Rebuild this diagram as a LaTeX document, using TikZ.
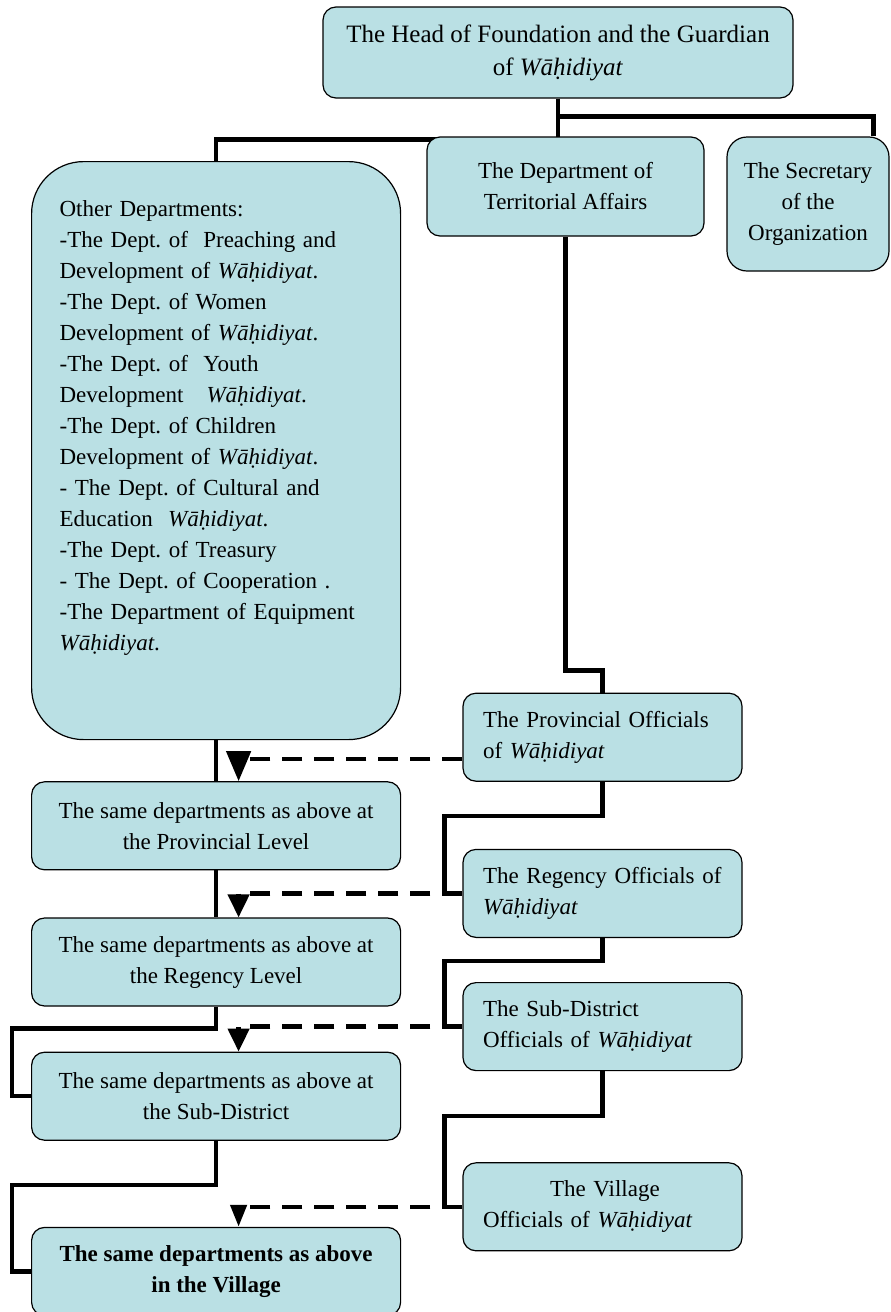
\documentclass[tikz,border=0pt]{standalone}
\usepackage{fontspec}
\setmainfont{Liberation Serif}
\usepackage{tikz}
\usetikzlibrary{positioning, arrows.meta, backgrounds}
\definecolor{boxfill}{RGB}{186,224,228}
\newcommand{\wahid}{\textit{Wāḥidiyat}}
\frenchspacing

\begin{document}
\begin{tikzpicture}[
	x=0.5pt, y=-0.5pt,
	box/.style={
		draw,
		fill=boxfill,
		rectangle,
		rounded corners=6.5pt,
		line width=0.6pt,
		inner sep=0pt,
		align=center,
		font=\fontsize{11.5}{15.5}\selectfont
	},
	level/.style={box, minimum width=184.5pt, minimum height=44pt},
	office/.style={box, text width=119.5pt, inner xsep=10pt, minimum height=44pt, align=left},
	conn/.style={line width=2.2pt},
	link/.style={line width=2.2pt, dash pattern=on 10pt off 6pt, -{Triangle[length=11.5pt, width=10.5pt]}}
	]
	
	\useasboundingbox (0,0) rectangle (890,1312);
	
	% top of the chart
	\node[box, minimum width=235pt, minimum height=45.5pt, font=\fontsize{12.5}{16.5}\selectfont] (head) at (558,52.5) {The Head of Foundation and the Guardian\\of \wahid};
	\node[box, minimum width=138.5pt, minimum height=49.5pt] (terr) at (565.5,186.5) {The Department of\\Territorial Affairs};
	\node[box, minimum width=81pt, minimum height=67pt, rounded corners=10pt] (secr) at (808,204) {The Secretary\\of the\\Organization};
	\node[box, rounded corners=26pt, align=left, text width=156.5pt, inner xsep=14pt, text height=27.5pt, text depth=261.5pt, anchor=north west] (other) at (31,161) {Other Departments:\\-The Dept. of~ Preaching and\\Development of \wahid.\\-The Dept. of Women\\Development of \wahid.\\-The Dept. of~ Youth\\Development~~ \wahid.\\-The Dept. of Children\\Development of \wahid.\\- The Dept. of Cultural and\\Education~ \wahid.\\-The Dept. of Treasury\\- The Dept. of Cooperation .\\-The Department of Equipment\\\wahid.};
	
	% officials
	\node[office, below=228pt of terr, xshift=18.5pt] (prov) {The Provincial Officials\\of \wahid};
	\node[office, below=33.5pt of prov] (reg) {The Regency Officials of\\\wahid};
	\node[office, below=22pt of reg] (sub) {The Sub-District\\Officials of \wahid};
	\node[office, below=45.5pt of sub] (vill) {\hspace*{33.5pt}The Village\\Officials of \wahid};
	
	% departments per level
	\node[level, below=20.5pt of other] (sprov) {The same departments as above at\\the Provincial Level};
	\node[level, below=23.5pt of sprov] (sreg) {The same departments as above at\\the Regency Level};
	\node[level, below=22.5pt of sreg] (ssub) {The same departments as above at\\the Sub-District};
	\node[level, below=43pt of ssub, font=\fontsize{11.5}{15.5}\selectfont\bfseries] (svill) {The same departments as above\\in the Village};
	
	\begin{scope}[on background layer]
		\draw[conn] (head.south) -- ++(0,18) -| ([xshift=-8pt]secr.north east);
		\draw[conn] (head.south) -- ++(0,41) -| (other.north);
		\draw[conn] (terr.south) -- ++(0,434) -| (prov.north);
		\draw[conn] (prov.south) -- ++(0,34) -| ([xshift=-9pt]reg.west) -- (reg.west);
		\draw[conn] (reg.south) -- ++(0,23) -| ([xshift=-9pt]sub.west) -- (sub.west);
		\draw[conn] (sub.south) -- ++(0,45) -| ([xshift=-9pt]vill.west) -- (vill.west);
		\draw[conn] (other.south) -- (sprov.north);
		\draw[conn] (sprov.south) -- (sreg.north);
		\draw[conn] (sreg.south) -- ++(0,22) -| ([xshift=-9.5pt]ssub.west) -- (ssub.west);
		\draw[conn] (ssub.south) -- ++(0,44) -| ([xshift=-9.5pt]svill.west) -- (svill.west);
	\end{scope}
	
	\draw[link, -{Triangle[length=15pt, width=12pt]}] ([yshift=-10.75pt]prov.west) -| ([xshift=11.25pt]sprov.north);
	\draw[link] (reg.west) -| ([xshift=11.25pt]sreg.north);
	\draw[link] (sub.west) -| ([xshift=11.25pt]ssub.north);
	\draw[link, -{Triangle[length=11pt, width=8pt]}] (vill.west) -| ([xshift=11.25pt]svill.north);
	
\end{tikzpicture}
\end{document}
